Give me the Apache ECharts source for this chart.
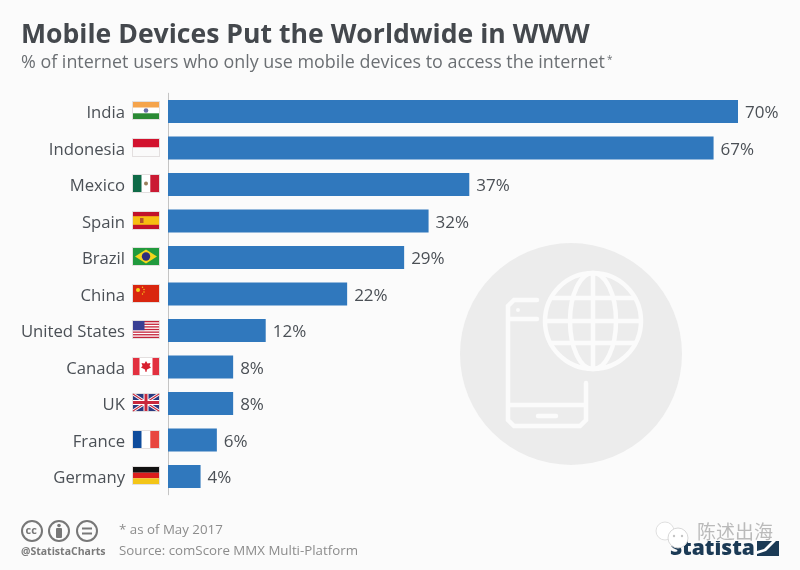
<!DOCTYPE html>
<html lang="en">
<head>
<meta charset="utf-8" />
<title>Mobile Devices Put the Worldwide in WWW</title>
<script src="https://cdn.jsdelivr.net/npm/echarts@6/dist/echarts.min.js"></script>
<style>
  html, body { margin: 0; padding: 0; background: #fbfbfb; }
  #chart { width: 800px; height: 570px; }
</style>
</head>
<body>
<div id="chart"></div>
<script>
// data
var countries = ['India', 'Indonesia', 'Mexico', 'Spain', 'Brazil', 'China', 'United States', 'Canada', 'UK', 'France', 'Germany'];
var shares = [70, 67, 37, 32, 29, 22, 12, 8, 8, 6, 4];

var titleText = 'Mobile Devices Put the Worldwide in WWW';
var subtitleText = '% of internet users who only use mobile devices to access the internet';
var noteText = '* as of May 2017';
var sourceText = 'Source: comScore MMX Multi-Platform';
var handleText = '@StatistaCharts';

var FONT = '"Open Sans", "Noto Sans", sans-serif';
var INK = '#4b5056';
var BG = '#fbfbfb';
var BAR = '#3078bd';
var FLAG_H = 17;

// flag helpers, drawn in a 26x17 box
function box(x, y, w, h, fill) {
    return { type: 'rect', shape: { x: x, y: y, width: w, height: h }, style: { fill: fill } };
}
function dot(x, y, r, fill) {
    return { type: 'circle', shape: { cx: x, cy: y, r: r }, style: { fill: fill } };
}
function poly(points, fill) {
    return { type: 'polygon', shape: { points: points }, style: { fill: fill } };
}
function bar(x1, y1, x2, y2, color, w) {
    return { type: 'line', shape: { x1: x1, y1: y1, x2: x2, y2: y2 }, style: { stroke: color, lineWidth: w } };
}
function usFlag() {
    var parts = [box(0, 0, 26, 17, '#fff')];
    for (var i = 0; i < 7; i++) parts.push(box(0, i * 2.62, 26, 1.31, '#c4233a'));
    parts.push(box(0, 0, 11.5, 9.2, '#3a3f93'));
    return parts;
}
var flags = {
    'India': [box(0, 0, 26, 5.7, '#f5a44c'), box(0, 5.7, 26, 5.6, '#fff'), box(0, 11.3, 26, 5.7, '#2b8a35'), dot(13, 8.5, 2.3, '#6a70a8')],
    'Indonesia': [box(0, 0, 26, 8.5, '#d2122e'), box(0, 8.5, 26, 8.5, '#fafafa')],
    'Mexico': [box(0, 0, 8.7, 17, '#0f6a47'), box(8.7, 0, 8.6, 17, '#fff'), box(17.3, 0, 8.7, 17, '#ca1a33'), dot(13, 8.5, 2, '#9a7f5c')],
    'Spain': [box(0, 0, 26, 17, '#c2122a'), box(0, 4.2, 26, 8.6, '#f6bd12'), box(7, 6, 3.5, 5, '#b5522a')],
    'Brazil': [box(0, 0, 26, 17, '#219a3d'), poly([[13, 1.6], [24, 8.5], [13, 15.4], [2, 8.5]], '#f3d51d'), dot(13, 8.5, 4.2, '#2d2f7c')],
    'China': [box(0, 0, 26, 17, '#d9260f'), dot(5, 5, 2, '#f7d21c'), dot(9.5, 2.2, 0.7, '#f7d21c'), dot(11, 4.5, 0.7, '#f7d21c'), dot(11, 7, 0.7, '#f7d21c'), dot(9.5, 9, 0.7, '#f7d21c')],
    'United States': usFlag(),
    'Canada': [box(0, 0, 26, 17, '#fff'), box(0, 0, 6.5, 17, '#e2303f'), box(19.5, 0, 6.5, 17, '#e2303f'),
        poly([[13, 3], [14.5, 5.5], [17.5, 5], [16.5, 8], [18, 9.5], [14, 11.5], [13.4, 14], [12.6, 14], [12, 11.5], [8, 9.5], [9.5, 8], [8.5, 5], [11.5, 5.5]], '#d8202f')],
    'UK': [box(0, 0, 26, 17, '#2a3a80'), bar(0, 0, 26, 17, '#fff', 3), bar(26, 0, 0, 17, '#fff', 3), bar(0, 0, 26, 17, '#c8283c', 1.1), bar(26, 0, 0, 17, '#c8283c', 1.1),
        box(10.5, 0, 5, 17, '#fff'), box(0, 6, 26, 5, '#fff'), box(11.5, 0, 3, 17, '#c8283c'), box(0, 7, 26, 3, '#c8283c')],
    'France': [box(0, 0, 8.7, 17, '#0f4c9c'), box(8.7, 0, 8.6, 17, '#fff'), box(17.3, 0, 8.7, 17, '#e8463f')],
    'Germany': [box(0, 0, 26, 5.7, '#111'), box(0, 5.7, 26, 5.6, '#dc1d1d'), box(0, 11.3, 26, 5.7, '#f3c517')]
};

function renderFlag(params, api) {
    var p = api.coord([0, api.value(0)]);
    // soft edge around each flag, the white parts need it
    var edge = { type: 'rect', shape: { x: -0.5, y: -0.5, width: 27, height: 18 }, style: { fill: 'none', stroke: 'rgba(120,100,100,0.18)', lineWidth: 1 } };
    return {
        type: 'group',
        x: p[0] - 35,
        y: Math.round(p[1] - FLAG_H / 2) - 1,
        children: flags[countries[params.dataIndex]].concat([edge])
    };
}

// grey circle with phone and globe behind the bars
function backdrop() {
    var line = { stroke: BG, lineWidth: 4.5, lineCap: 'round', fill: null };
    function ln(x1, y1, x2, y2) {
        return { type: 'line', z: 1, shape: { x1: x1, y1: y1, x2: x2, y2: y2 }, style: line };
    }
    var gx = 593, gy = 321;
    return [
        { type: 'circle', z: 0, shape: { cx: 571, cy: 354, r: 111 }, style: { fill: '#ececec' } },
        { type: 'polyline', z: 1, shape: { points: [[537, 300], [514, 300], [508, 306], [508, 420], [514, 426], [580, 426], [586, 420], [586, 383]] }, style: line },
        ln(510, 319, 537, 319),
        ln(510, 405, 585, 405),
        ln(538, 416, 556, 416),
        { type: 'circle', z: 1, shape: { cx: 518, cy: 310, r: 2 }, style: { fill: BG } },
        { type: 'circle', z: 1, shape: { cx: gx, cy: gy, r: 48 }, style: line },
        { type: 'ellipse', z: 1, shape: { cx: gx, cy: gy, rx: 23, ry: 48 }, style: line },
        ln(gx, gy - 48, gx, gy + 48),
        ln(gx - 47, gy, gx + 47, gy),
        ln(gx - 41, gy - 23, gx + 41, gy - 23),
        ln(gx - 41, gy + 22, gx + 41, gy + 22)
    ];
}

function txt(x, y, text, size, color, weight, family) {
    return {
        type: 'text', z: 5, x: x, y: y,
        style: { text: text, fontSize: size, fill: color, fontWeight: weight || 'normal', fontFamily: family || FONT, textVerticalAlign: 'middle' }
    };
}
function ccRing(x) {
    return { type: 'circle', z: 5, shape: { cx: x, cy: 531, r: 10 }, style: { fill: 'none', stroke: '#777', lineWidth: 2 } };
}

function footer() {
    return [
        ccRing(32), ccRing(59), ccRing(87),
        txt(25.5, 531, 'cc', 11, '#777', 'bold'),
        { type: 'circle', z: 5, shape: { cx: 59, cy: 525.5, r: 1.8 }, style: { fill: '#777' } },
        { type: 'rect', z: 5, shape: { x: 56, y: 528, width: 6, height: 10, r: 1 }, style: { fill: '#777' } },
        { type: 'rect', z: 5, shape: { x: 82, y: 527.5, width: 10, height: 2 }, style: { fill: '#777' } },
        { type: 'rect', z: 5, shape: { x: 82, y: 532.5, width: 10, height: 2 }, style: { fill: '#777' } },
        txt(21, 552, handleText, 10.5, '#7a7a7a', 'bold'),
        txt(119, 530, noteText, 13.3, '#8c8c8c'),
        txt(119, 551, sourceText, 13.3, '#8c8c8c')
    ];
}

function logo() {
    var NAVY = '#1b3a55';
    return [
        txt(670, 549, 'Statista', 21, NAVY, 800),
        { type: 'rect', z: 5, shape: { x: 757, y: 541, width: 22, height: 15 }, style: { fill: NAVY } },
        { type: 'polygon', z: 6, shape: { points: [[757, 551], [764, 549], [772, 541], [776, 541], [766, 551], [757, 554]] }, style: { fill: '#fff' } },
        // wechat style watermark covers the top of the logo
        { type: 'rect', z: 6, shape: { x: 660, y: 520, width: 125, height: 21 }, style: { fill: BG } },
        { type: 'circle', z: 7, shape: { cx: 665, cy: 531, r: 9 }, style: { fill: '#fff', stroke: '#e0e0e0', lineWidth: 1 } },
        { type: 'circle', z: 7, shape: { cx: 678, cy: 538, r: 10 }, style: { fill: '#fff', stroke: '#d8d8d8', lineWidth: 1 } },
        { type: 'circle', z: 8, shape: { cx: 674, cy: 536, r: 1.2 }, style: { fill: '#c4c4c4' } },
        { type: 'circle', z: 8, shape: { cx: 682, cy: 536, r: 1.2 }, style: { fill: '#c4c4c4' } },
        { type: 'text', z: 8, x: 697, y: 532, style: { text: '陈述出海', fontSize: 19, fill: 'rgba(150,150,150,0.65)', fontFamily: '"Noto Sans CJK SC"', textVerticalAlign: 'middle' } }
    ];
}

var chart = echarts.init(document.getElementById('chart'), null, { renderer: 'canvas' });
chart.setOption({
    animation: false,
    backgroundColor: BG,
    textStyle: { fontFamily: FONT },
    grid: { left: 168, top: 93.25, width: 570, height: 401.5, containLabel: false },
    xAxis: { type: 'value', min: 0, max: 70, show: false },
    yAxis: {
        type: 'category',
        data: countries,
        inverse: true,
        axisLine: { show: true, lineStyle: { color: '#c4c4c4', width: 1 } },
        axisTick: { show: false },
        // short line box with top align pushes the names down to the bar centre
        axisLabel: { margin: 43, fontSize: 16.7, color: INK, fontFamily: FONT, verticalAlign: 'top', lineHeight: 4 }
    },
    series: [
        {
            name: 'Mobile only users',
            type: 'bar',
            data: shares,
            barWidth: 23,
            itemStyle: { color: BAR },
            z: 3,
            label: { show: true, position: 'right', distance: 7, offset: [0, 2], formatter: '{c}%', fontSize: 17, color: INK, fontFamily: FONT }
        },
        {
            name: 'Flags',
            type: 'custom',
            coordinateSystem: 'cartesian2d',
            data: countries.map(function (c, i) { return [i, 0]; }),
            encode: { y: 0, x: 1 },
            renderItem: renderFlag,
            silent: true,
            clip: false,
            z: 4
        }
    ],
    graphic: backdrop().concat([
        txt(21, 35, titleText, 26.6, '#44484d', 'bold'),
        txt(21, 63, subtitleText, 17.9, '#6b6f73'),
        txt(607, 60, '*', 10, '#6b6f73')
    ], footer(), logo())
});
</script>
</body>
</html>
